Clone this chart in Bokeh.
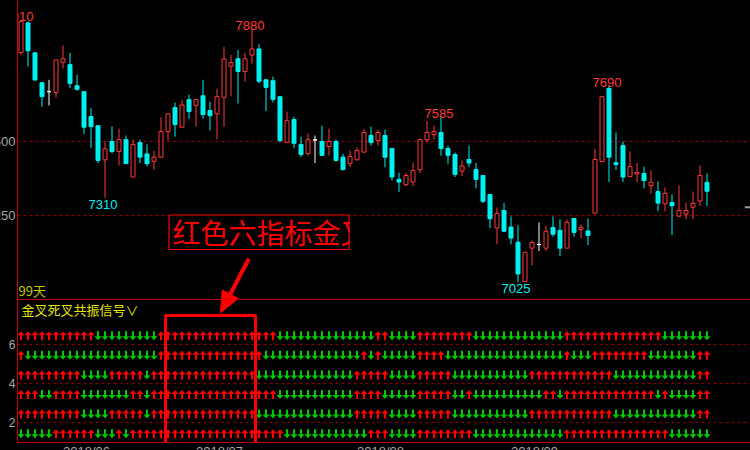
import numpy as np
from bokeh.plotting import figure
from bokeh.layouts import column
from bokeh.models import Range1d, ColumnDataSource
from bokeh.embed import file_html
from bokeh.resources import INLINE
from bokeh.core.properties import value
from bokeh.core.templates import get_env

# ---------------- data ----------------
# daily candles, oldest first (99 trading days)
opens = [7800, 7900, 7799, 7698, 7668, 7665, 7767, 7759, 7688, 7668,
         7584, 7553, 7438, 7500, 7466, 7506, 7380, 7496, 7458, 7433,
         7447, 7533, 7614, 7548, 7641, 7622, 7654, 7604, 7593, 7649,
         7754, 7779, 7736, 7791, 7812, 7708, 7705, 7651, 7497, 7574,
         7490, 7459, 7505, 7500, 7483, 7500, 7447, 7425, 7438, 7464,
         7520, 7503, 7520, 7476, 7372, 7354, 7363, 7404, 7506, 7523,
         7530, 7476, 7456, 7400, 7439, 7405, 7385, 7321, 7208, 7267,
         7211, 7160, 7027, 7140, 7152, 7140, 7210, 7200, 7140, 7240,
         7203, 7198, 7258, 7432, 7679, 7428, 7486, 7382, 7390, 7392,
         7351, 7331, 7290, 7294, 7248, 7255, 7278, 7299, 7362]
highs = [7910, 7905, 7800, 7698, 7708, 7775, 7823, 7799, 7725, 7668,
         7612, 7553, 7500, 7550, 7543, 7520, 7506, 7506, 7490, 7469,
         7581, 7593, 7631, 7641, 7658, 7644, 7708, 7634, 7678, 7819,
         7792, 7809, 7799, 7880, 7828, 7708, 7718, 7651, 7601, 7584,
         7516, 7527, 7520, 7553, 7543, 7506, 7458, 7469, 7480, 7543,
         7550, 7540, 7540, 7476, 7394, 7394, 7428, 7509, 7570, 7553,
         7585, 7486, 7463, 7436, 7486, 7428, 7385, 7321, 7277, 7292,
         7247, 7217, 7126, 7166, 7227, 7216, 7247, 7237, 7237, 7240,
         7220, 7240, 7475, 7651, 7690, 7530, 7500, 7466, 7428, 7415,
         7402, 7365, 7345, 7321, 7352, 7294, 7331, 7419, 7392]
lows = [7792, 7753, 7707, 7617, 7621, 7648, 7746, 7680, 7671, 7526,
        7477, 7427, 7310, 7460, 7419, 7425, 7380, 7427, 7416, 7404,
        7445, 7503, 7516, 7548, 7577, 7550, 7577, 7537, 7506, 7550,
        7654, 7628, 7702, 7763, 7696, 7602, 7632, 7496, 7494, 7477,
        7447, 7452, 7427, 7453, 7452, 7432, 7402, 7413, 7436, 7462,
        7486, 7486, 7413, 7368, 7329, 7349, 7349, 7393, 7496, 7506,
        7452, 7425, 7380, 7383, 7413, 7342, 7292, 7208, 7153, 7194,
        7153, 7025, 7027, 7082, 7130, 7130, 7178, 7113, 7140, 7178,
        7173, 7150, 7258, 7432, 7363, 7404, 7363, 7380, 7363, 7342,
        7324, 7265, 7264, 7184, 7245, 7237, 7238, 7282, 7282]
closes = [7905, 7806, 7707, 7651, 7668, 7775, 7779, 7696, 7676, 7548,
          7550, 7436, 7475, 7466, 7506, 7425, 7490, 7447, 7425, 7447,
          7533, 7593, 7557, 7623, 7601, 7641, 7591, 7587, 7651, 7778,
          7766, 7736, 7779, 7812, 7703, 7682, 7642, 7503, 7570, 7494,
          7456, 7506, 7505, 7453, 7500, 7436, 7405, 7449, 7469, 7530,
          7496, 7530, 7447, 7380, 7363, 7385, 7402, 7506, 7530, 7533,
          7476, 7453, 7389, 7417, 7427, 7372, 7298, 7239, 7257, 7197,
          7174, 7053, 7126, 7159, 7152, 7197, 7187, 7140, 7227, 7193,
          7210, 7183, 7439, 7651, 7447, 7422, 7380, 7415, 7395, 7368,
          7362, 7292, 7325, 7283, 7267, 7267, 7291, 7385, 7332]

# labelled swing highs / lows (bar index)
peak_days = [0, 33, 60, 84]
trough_days = [12, 71]

# first trading day of each month on the date axis
month_days = [6, 25, 48, 70]
month_labels = ["2018/06", "2018/07", "2018/08", "2018/09"]

price_ticks = [7250, 7500]
signal_ticks = [2, 4, 6]
last_price_mark = 7278

# golden / death cross signal rows, top to bottom; U = golden cross, D = death cross
signal_levels = [6, 5, 4, 3, 2, 1]
signal_runs = [
    [("U", 11), ("D", 9), ("U", 17), ("D", 14), ("U", 2), ("D", 4), ("U", 8),
     ("D", 13), ("U", 14), ("D", 7)],
    [("U", 1), ("D", 19), ("U", 15), ("D", 14), ("U", 1), ("D", 1), ("U", 1),
     ("D", 5), ("U", 4), ("D", 17), ("U", 1), ("D", 3), ("U", 8), ("D", 7), ("U", 2)],
    [("U", 9), ("D", 4), ("U", 5), ("D", 1), ("U", 15), ("D", 14), ("U", 5),
     ("D", 4), ("U", 5), ("D", 11), ("U", 12), ("D", 12), ("U", 2)],
    [("U", 3), ("D", 2), ("U", 4), ("D", 7), ("U", 2), ("D", 1), ("U", 18),
     ("D", 11), ("U", 4), ("D", 5), ("U", 5), ("D", 2), ("U", 1), ("D", 10),
     ("U", 2), ("D", 1), ("U", 13), ("D", 1), ("U", 1), ("D", 4), ("U", 2)],
    [("U", 9), ("D", 4), ("U", 5), ("D", 1), ("U", 15), ("D", 14), ("U", 5),
     ("D", 4), ("U", 5), ("D", 11), ("U", 12), ("D", 12), ("U", 2)],
    [("D", 5), ("U", 6), ("D", 3), ("U", 1), ("D", 1), ("U", 22), ("D", 12),
     ("U", 3), ("D", 4), ("U", 8), ("D", 13), ("U", 15), ("D", 6)],
]

highlight_days = (21, 33)
note_text = "红色六指标金叉"
panel_title = "金叉死叉共振信号∨"

# ---------------- layout / style ----------------
BAR_PX = 7.0          # pixels per bar
FRAME_W = 754
LEFT = 40             # left gutter holding the y labels
SHIFT = 23            # part of that gutter pushed off the page
TOP_H = 299
LOW_H = 143
X_START = -0.5
PRICE_RANGE = (6966.7, 7975.5)
SIGNAL_RANGE = (1.0, 8.3)

BG = "#000000"
UP = "#ff3838"
DOWN = "#00f0f0"
FLAT = "#ffffff"
FRAME_RED = "#c40000"
GRID_RED = "#8a0000"
SIG_RED = "#ff0000"
SIG_GREEN = "#00c800"
LABEL_GREY = "#a4a8ae"
YELLOW = "#e6e600"
NUM_FONT_NAME = "Liberation Sans"
NUM_FONT = value(NUM_FONT_NAME)
CJK_FONT = value("Noto Sans CJK SC")

x_range = Range1d(X_START, X_START + FRAME_W / BAR_PX)
frame_left_px = LEFT - SHIFT


def px_x(px):
    return X_START + (px - frame_left_px) / BAR_PX


def px_price(py):
    return PRICE_RANGE[1] - py * (PRICE_RANGE[1] - PRICE_RANGE[0]) / TOP_H


def px_signal(py):
    return SIGNAL_RANGE[1] - (py - TOP_H) * (SIGNAL_RANGE[1] - SIGNAL_RANGE[0]) / LOW_H


price_per_px = (PRICE_RANGE[1] - PRICE_RANGE[0]) / TOP_H
sig_per_px = (SIGNAL_RANGE[1] - SIGNAL_RANGE[0]) / LOW_H


def style_axis(ax, size):
    ax.major_tick_line_color = None
    ax.minor_tick_line_color = None
    ax.major_tick_out = 0
    ax.major_tick_in = 0
    ax.minor_tick_out = 0
    ax.minor_tick_in = 0
    ax.major_label_text_color = LABEL_GREY
    ax.major_label_text_font = NUM_FONT_NAME
    ax.major_label_text_font_size = size
    ax.axis_line_color = FRAME_RED


def base_fig(frame_h, y_range, **kw):
    f = figure(frame_width=FRAME_W, frame_height=frame_h, x_range=x_range, y_range=y_range,
               output_backend="svg", toolbar_location=None,
               min_border_left=LEFT, min_border_right=0, min_border_top=0, min_border_bottom=0,
               background_fill_color=BG, border_fill_color=BG, **kw)
    f.yaxis.major_label_standoff = 2
    f.xgrid.grid_line_color = None
    f.ygrid.grid_line_color = GRID_RED
    f.ygrid.grid_line_dash = "3 3"
    f.ygrid.grid_line_width = 1
    return f


# ---------------- price panel ----------------
top = base_fig(TOP_H, Range1d(*PRICE_RANGE), x_axis_location=None, outline_line_color=None)
top.yaxis.ticker = price_ticks
style_axis(top.yaxis[0], "13px")

o, h, l, c = (np.array(a, dtype=float) for a in (opens, highs, lows, closes))
n = len(o)
idx = np.arange(n)
line_col = np.where(c > o, UP, np.where(c < o, DOWN, FLAT))
fill_col = np.where(c > o, BG, np.where(c < o, DOWN, FLAT))
candles = ColumnDataSource(dict(x=idx, high=h, low=l, top=np.maximum(o, c),
                                bottom=np.minimum(o, c), line=line_col, fill=fill_col))
top.segment(x0="x", y0="high", x1="x", y1="low", line_color="line", line_width=1, source=candles)
top.vbar(x="x", width=4 / BAR_PX, top="top", bottom="bottom", fill_color="fill",
         line_color="line", line_width=1, source=candles)

# swing high / low labels
top.text(x=peak_days, y=[h[i] + 3 * price_per_px for i in peak_days],
         text=[str(int(h[i])) for i in peak_days], x_offset=-2,
         text_align="center", text_baseline="alphabetic", text_color=UP,
         text_font=NUM_FONT, text_font_size="13px")
top.text(x=trough_days, y=[l[i] - 2 * price_per_px for i in trough_days],
         text=[str(int(l[i])) for i in trough_days], x_offset=-2,
         text_align="center", text_baseline="top", text_color=DOWN,
         text_font=NUM_FONT, text_font_size="13px")

# latest price tick at the right edge
top.segment(x0=[n + 4.4], y0=[last_price_mark], x1=[n + 5.6], y1=[last_price_mark],
            line_color="#9a9a9a", line_width=2)

# bar count
top.text(x=[px_x(18)], y=[px_price(290)], text=[f"{n}天"], text_align="left",
         text_baseline="middle", text_color="#c8c800", text_font=CJK_FONT, text_font_size="13px")

# note box
nb_left, nb_right = px_x(168.5), px_x(348.5)
nb_top, nb_bottom = px_price(214.5), px_price(249)
top.quad(left=[nb_left], right=[nb_right], top=[nb_top], bottom=[nb_bottom],
         fill_color=BG, line_color=None)
top.text(x=[px_x(172)], y=[(nb_top + nb_bottom) / 2], text=[note_text], text_align="left",
         text_baseline="middle", text_color=SIG_RED, text_font=CJK_FONT, text_font_size="28px")
top.quad(left=[px_x(349.5)], right=[px_x(380)], top=[px_price(216.5)], bottom=[px_price(252)],
         fill_color=BG, line_color=None)
top.quad(left=[nb_left], right=[nb_right], top=[nb_top], bottom=[nb_bottom],
         fill_color=None, line_color=SIG_RED, line_width=1.2)

# pointer arrow (spans both panels), defined in page pixels
tail = np.array([248.3, 258.3])
tip = np.array([220.0, 312.3])
u = (tip - tail) / np.hypot(*(tip - tail))
perp = np.array([u[1], -u[0]])
base = tip - 21 * u
head_px = [tip, base + 9 * perp, base - 9 * perp]


def draw_pointer(fig, ymap):
    fig.line(x=[px_x(tail[0]), px_x(base[0])], y=[ymap(tail[1]), ymap(base[1])],
             line_color=SIG_RED, line_width=4)
    fig.patch(x=[px_x(p[0]) for p in head_px], y=[ymap(p[1]) for p in head_px],
              fill_color=SIG_RED, line_color=SIG_RED, line_width=1)


draw_pointer(top, px_price)

# ---------------- signal panel ----------------
low = base_fig(LOW_H, Range1d(*SIGNAL_RANGE), outline_line_color=FRAME_RED)
low.yaxis.ticker = signal_ticks
style_axis(low.yaxis[0], "12px")
tick_pos = [round(d + 23.5 / BAR_PX, 3) for d in month_days]   # labels start at the month's first bar
low.xaxis.ticker = tick_pos
low.xaxis.major_label_overrides = {t: s for t, s in zip(tick_pos, month_labels)}
style_axis(low.xaxis[0], "13px")
low.xaxis.major_label_standoff = 1

arrow_up = [(0, 4.5), (3.5, 0.5), (1, 0.5), (1, -4.5), (-1, -4.5), (-1, 0.5), (-3.5, 0.5)]
xs, ys, cols = [], [], []
for level, runs in zip(signal_levels, signal_runs):
    states = "".join(s * k for s, k in runs)
    yc = level + 0.45
    for i, s in enumerate(states):
        sgn = 1 if s == "U" else -1
        xs.append([i + dx / BAR_PX for dx, dy in arrow_up])
        ys.append([yc + sgn * dy * sig_per_px for dx, dy in arrow_up])
        cols.append(SIG_RED if s == "U" else SIG_GREEN)
low.patches(xs=xs, ys=ys, fill_color=cols, line_color=None)

low.text(x=[px_x(21)], y=[px_signal(309)], text=[panel_title], text_align="left",
         text_baseline="middle", text_color=YELLOW, text_font=CJK_FONT, text_font_size="13px")

low.quad(left=[highlight_days[0] - 0.35], right=[highlight_days[1] + 0.5],
         top=[px_signal(315)], bottom=[SIGNAL_RANGE[0] - 0.05],
         fill_color=None, line_color=SIG_RED, line_width=3)

draw_pointer(low, px_signal)

layout = column(top, low, spacing=0, margin=(0, 0, 0, -SHIFT))

page = get_env().from_string(
    '{% extends "file.html" %}{% block postamble %}'
    '<style>html, body { overflow: hidden; background: #000000; }</style>'
    '{% endblock %}')
open("out.html", "w").write(file_html(layout, INLINE, title="金叉死叉共振信号", template=page))
